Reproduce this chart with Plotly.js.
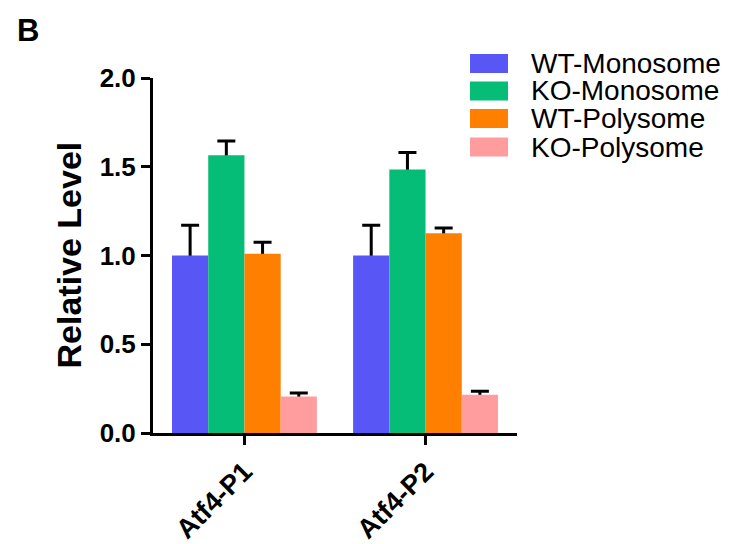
<!DOCTYPE html>
<html>
<head>
<meta charset="utf-8">
<script src="https://cdn.plot.ly/plotly-3.0.1.min.js"></script>
<style>html,body{margin:0;padding:0;background:#fff;}#chart{width:738px;height:544px;}</style>
</head>
<body>
<div id="chart"></div>
<script>
var categories = ["Atf4-P1", "Atf4-P2"];
var seriesNames = ["WT-Monosome", "KO-Monosome", "WT-Polysome", "KO-Polysome"];
var seriesColors = ["#5856F5", "#06BD77", "#FF7F00", "#FF9D9E"];
var wtMono = [1.0, 1.0];
var koMono = [1.565, 1.485];
var wtPoly = [1.01, 1.125];
var koPoly = [0.205, 0.215];
var wtMonoErr = [0.17, 0.17];
var koMonoErr = [0.08, 0.095];
var wtPolyErr = [0.065, 0.03];
var koPolyErr = [0.02, 0.02];

var values = [wtMono, koMono, wtPoly, koPoly];
var errors = [wtMonoErr, koMonoErr, wtPolyErr, koPolyErr];
var FONT = "Liberation Sans, Arial, Helvetica, sans-serif";

var traces = [];
// error bars first (drawn underneath), lower half hidden by the opaque bars
seriesNames.forEach(function(name, i){
  traces.push({
    type: "bar", name: name + " err", x: categories, y: values[i],
    offsetgroup: String(i),
    marker: {color: "rgba(0,0,0,0)", line: {width: 0}},
    error_y: {type: "data", symmetric: false, array: errors[i],
      arrayminus: values[i], color: "#000", thickness: 3, width: 9},
    showlegend: false, hoverinfo: "skip"
  });
});
seriesNames.forEach(function(name, i){
  traces.push({
    type: "bar", name: name, x: categories, y: values[i],
    offsetgroup: String(i),
    marker: {color: seriesColors[i], line: {width: 0}},
    showlegend: false, hoverinfo: "skip"
  });
});

var W = 738, H = 544, L = 153, R = 221, T = 78, B = 111;
var pw = W - L - R, ph = H - T - B;
function px(x){ return (x - L) / pw; }
function py(y){ return (H - B - y) / ph; }

var shapes = [], annotations = [];
var rowY = [63.5, 91, 118.5, 147];
seriesNames.forEach(function(name, i){
  shapes.push({type: "rect", xref: "paper", yref: "paper",
    x0: px(470), x1: px(508), y0: py(rowY[i] + 9.5), y1: py(rowY[i] - 9.5),
    fillcolor: seriesColors[i], line: {width: 0}});
  annotations.push({xref: "paper", yref: "paper", x: px(529), y: py(rowY[i]),
    xanchor: "left", yanchor: "middle", text: name, showarrow: false,
    font: {family: FONT, size: 28, color: "#000"}});
});
annotations.push({xref: "paper", yref: "paper", x: px(15), y: py(31),
  xanchor: "left", yanchor: "middle", text: "B", showarrow: false,
  font: {family: FONT, size: 31, color: "#000", weight: 700}});
annotations.push({xref: "paper", yref: "paper", x: px(68), y: 0.5,
  xanchor: "center", yanchor: "middle", text: "Relative Level", textangle: -90,
  showarrow: false, font: {family: FONT, size: 34, color: "#000", weight: 700}});

var layout = {
  width: W, height: H,
  margin: {l: L, r: R, t: T, b: B, pad: 0},
  paper_bgcolor: "#fff", plot_bgcolor: "#fff",
  barmode: "group", bargap: 0.2, bargroupgap: 0,
  showlegend: false,
  font: {family: FONT, color: "#000"},
  xaxis: {type: "category", range: [-0.505, 1.505], showline: true, linewidth: 3,
    linecolor: "#000", ticks: "outside", ticklen: 9, tickwidth: 3, tickcolor: "#000",
    tickangle: -45, showgrid: false, zeroline: false, fixedrange: true,
    tickfont: {family: FONT, size: 27, color: "#000", weight: 700}},
  yaxis: {range: [0, 2], dtick: 0.5, tick0: 0, tickformat: ".1f", showline: true,
    linewidth: 3, linecolor: "#000", ticks: "outside", ticklen: 9, tickwidth: 3,
    tickcolor: "#000", showgrid: false, zeroline: false, fixedrange: true,
    tickfont: {family: FONT, size: 26, color: "#000", weight: 700}},
  shapes: shapes, annotations: annotations
};

Plotly.newPlot("chart", traces, layout, {displayModeBar: false, staticPlot: true});
</script>
</body>
</html>
